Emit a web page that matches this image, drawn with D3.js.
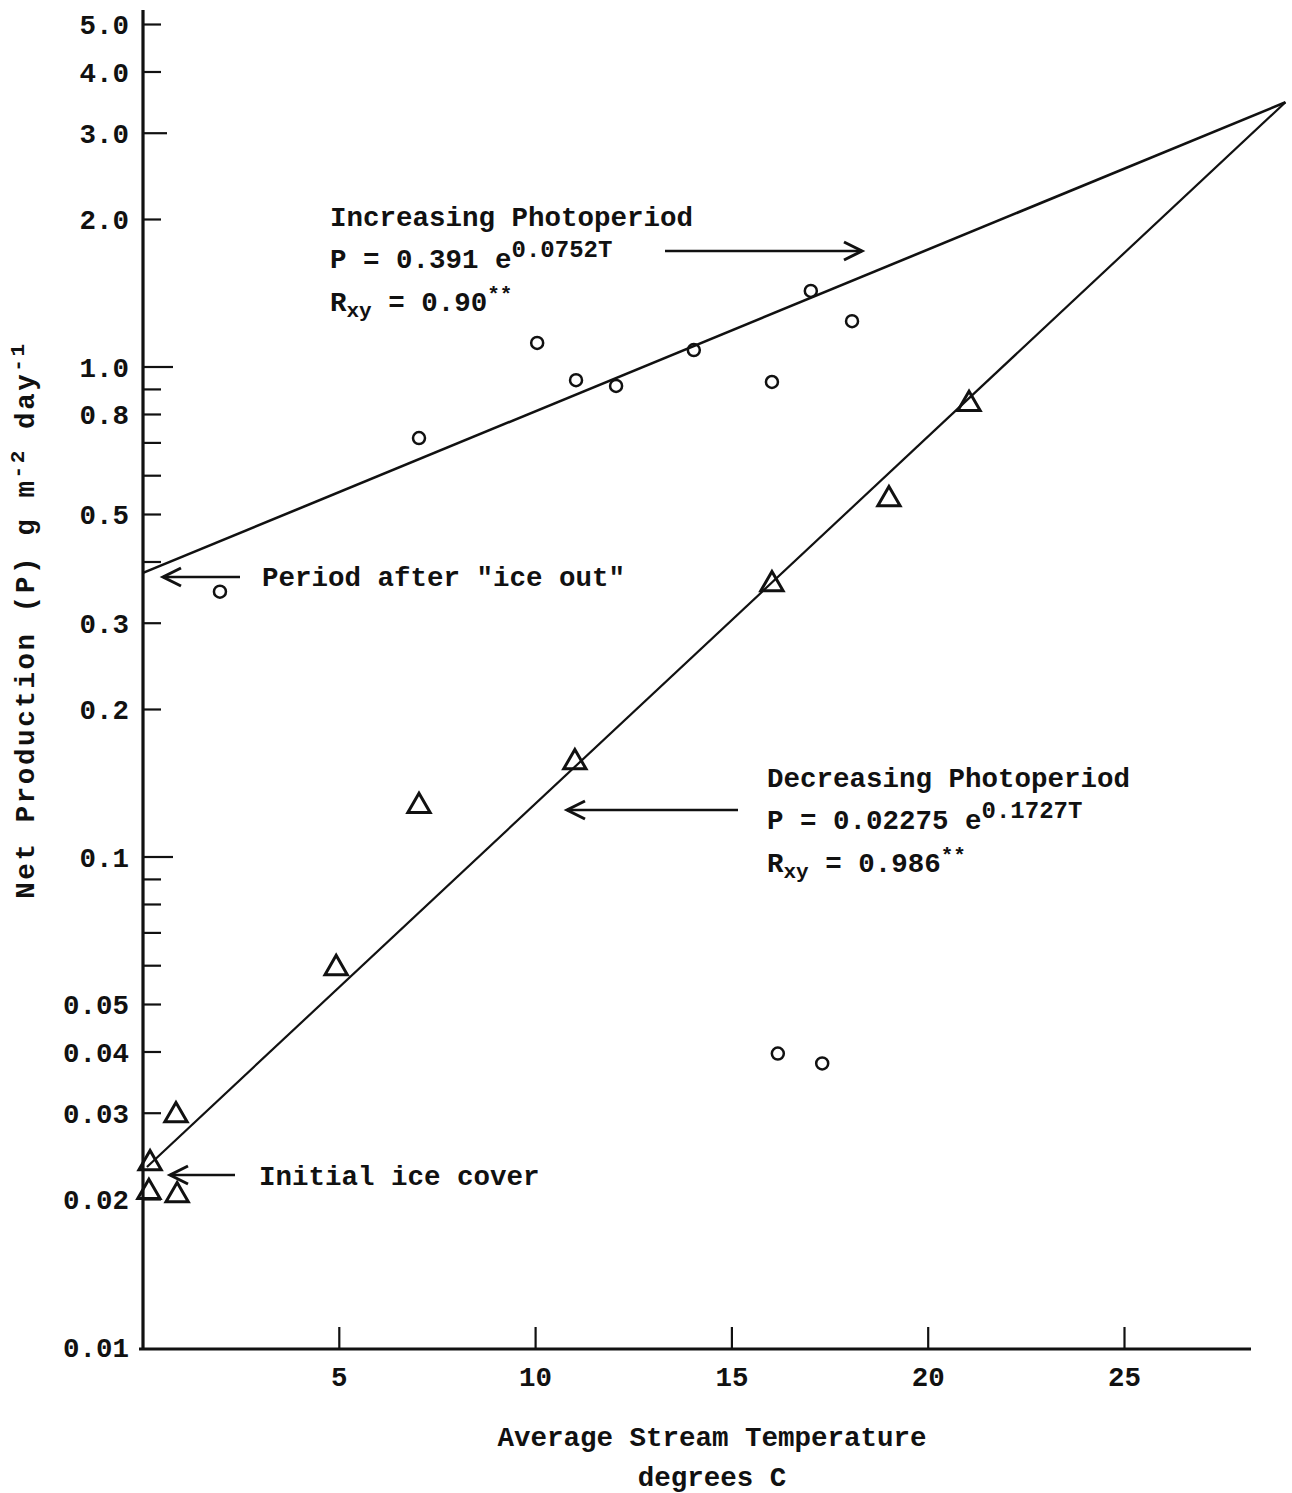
<!DOCTYPE html>
<html>
<head>
<meta charset="utf-8">
<script src="https://cdn.jsdelivr.net/npm/d3@7"></script>
<style>
  html, body { margin: 0; padding: 0; background: #fff; }
  svg { display: block; }
  text { font-family: "Liberation Mono", "DejaVu Sans Mono", monospace; font-weight: bold; fill: #111; }
</style>
</head>
<body>
<svg id="chart" width="1292" height="1493"></svg>
<script>
// ---- data ----
const incTemp = [1.96, 7.03, 10.04, 11.03, 12.05, 14.03, 16.02, 17.01, 18.06, 16.17, 17.3];
const incProd = [0.348, 0.716, 1.12, 0.94, 0.915, 1.083, 0.932, 1.43, 1.24, 0.0397, 0.0379];

const decTemp = [21.04, 19.0, 16.02, 11.0, 7.03, 4.92, 0.84, 0.18, 0.15, 0.87];
const decProd = [0.84, 0.537, 0.36, 0.156, 0.127, 0.0593, 0.0297, 0.0237, 0.0207, 0.0204];

// fitted lines, endpoints
const incLineT = [0, 29.1];
const incLineP = [0.38, 3.47];
const decLineT = [0.1, 29.1];
const decLineP = [0.0233, 3.47];

const xTicks = [5, 10, 15, 20, 25];
const yTickValues = [5, 4, 3, 2, 1, 0.9, 0.8, 0.7, 0.6, 0.5, 0.4, 0.3, 0.2, 0.1, 0.09, 0.08, 0.07, 0.06, 0.05, 0.04, 0.03, 0.02, 0.01];
const yTickLabels = {5: "5.0", 4: "4.0", 3: "3.0", 2: "2.0", 1: "1.0", 0.8: "0.8", 0.5: "0.5", 0.3: "0.3", 0.2: "0.2", 0.1: "0.1", 0.05: "0.05", 0.04: "0.04", 0.03: "0.03", 0.02: "0.02", 0.01: "0.01"};

// ---- scales ----
const x = d3.scaleLinear().domain([0, 25]).range([143, 1124.5]);
const y = d3.scaleLog().domain([0.01, 1]).range([1347, 367]);

const svg = d3.select("#chart");
const ink = "#111";
const fs = 27.5;

// ---- axes ----
const xAxisEnd = 1251;
const yAxisTop = 10;
svg.append("line").attr("x1", x(0)).attr("x2", x(0)).attr("y1", yAxisTop).attr("y2", y(0.01) + 3)
  .attr("stroke", ink).attr("stroke-width", 3.2);
svg.append("line").attr("x1", x(0) - 4).attr("x2", xAxisEnd).attr("y1", y(0.01) + 2).attr("y2", y(0.01) + 2)
  .attr("stroke", ink).attr("stroke-width", 3);

// y ticks (drawn inward, to the right)
const yt = svg.append("g");
yTickValues.forEach(v => {
  const isDecade = Math.abs(Math.log10(v) - Math.round(Math.log10(v))) < 1e-9;
  const len = isDecade ? 30 : (v === 3 ? 24 : 18);
  if (v !== 0.01) {
    yt.append("line").attr("x1", x(0)).attr("x2", x(0) + len)
      .attr("y1", y(v)).attr("y2", y(v)).attr("stroke", ink).attr("stroke-width", 2.2);
  }
  if (yTickLabels[v] !== undefined) {
    yt.append("text").attr("x", 129).attr("y", y(v)).attr("dy", "0.36em")
      .attr("text-anchor", "end").attr("font-size", fs).text(yTickLabels[v]);
  }
});

// x ticks (drawn inward, upward)
const xt = svg.append("g");
xTicks.forEach(v => {
  xt.append("line").attr("x1", x(v)).attr("x2", x(v)).attr("y1", y(0.01) + 2).attr("y2", y(0.01) - 20)
    .attr("stroke", ink).attr("stroke-width", 2.2);
  xt.append("text").attr("x", x(v)).attr("y", 1386).attr("text-anchor", "middle")
    .attr("font-size", fs).text(v);
});

// axis titles
svg.append("text").attr("x", 712).attr("y", 1446).attr("text-anchor", "middle").attr("font-size", fs)
  .text("Average Stream Temperature");
svg.append("text").attr("x", 712).attr("y", 1486).attr("text-anchor", "middle").attr("font-size", fs)
  .text("degrees C");

const yTitle = svg.append("text").attr("transform", "translate(34,620) rotate(-90)")
  .attr("text-anchor", "middle").attr("font-size", fs).attr("letter-spacing", 2.6);
yTitle.append("tspan").text("Net Production (P) g m");
yTitle.append("tspan").attr("dy", -10).attr("font-size", 21).text("-2");
yTitle.append("tspan").attr("dy", 10).text(" day");
yTitle.append("tspan").attr("dy", -10).attr("font-size", 21).text("-1");

// ---- fitted lines ----
const line = d3.line().x(d => x(d[0])).y(d => y(d[1]));
svg.append("path").datum(d3.zip(incLineT, incLineP)).attr("d", line)
  .attr("fill", "none").attr("stroke", ink).attr("stroke-width", 2.6);
svg.append("path").datum(d3.zip(decLineT, decLineP)).attr("d", line)
  .attr("fill", "none").attr("stroke", ink).attr("stroke-width", 2.2);

// ---- points ----
svg.append("g").selectAll("circle").data(d3.zip(incTemp, incProd)).join("circle")
  .attr("cx", d => x(d[0])).attr("cy", d => y(d[1])).attr("r", 6)
  .attr("fill", "none").attr("stroke", ink).attr("stroke-width", 2.5);

const tri = d3.symbol().type(d3.symbolTriangle).size(215);
svg.append("g").selectAll("path").data(d3.zip(decTemp, decProd)).join("path")
  .attr("transform", d => `translate(${x(d[0])},${y(d[1])})`).attr("d", tri)
  .attr("fill", "none").attr("stroke", ink).attr("stroke-width", 3).attr("stroke-linejoin", "miter");

// ---- annotations ----
function arrow(x1, y1, x2, y2, sw) {
  svg.append("line").attr("x1", x1).attr("y1", y1).attr("x2", x2).attr("y2", y2)
    .attr("stroke", ink).attr("stroke-width", sw || 2.4);
  const dir = Math.sign(x2 - x1);
  svg.append("path")
    .attr("d", `M${x2 - dir * 18},${y2 - 9} L${x2},${y2} L${x2 - dir * 18},${y2 + 9}`)
    .attr("fill", "none").attr("stroke", ink).attr("stroke-width", 3).attr("stroke-linejoin", "miter");
}

function block(x0, yTop, title, coef, expo, r) {
  svg.append("text").attr("x", x0).attr("y", yTop).attr("font-size", fs).text(title);
  const t2 = svg.append("text").attr("x", x0).attr("y", yTop + 42).attr("font-size", fs);
  t2.append("tspan").text("P = " + coef + " e");
  t2.append("tspan").attr("dy", -11).attr("font-size", 24).text(expo);
  const t3 = svg.append("text").attr("x", x0).attr("y", yTop + 85).attr("font-size", fs);
  t3.append("tspan").text("R");
  t3.append("tspan").attr("dy", 6).attr("font-size", 21).text("xy");
  t3.append("tspan").attr("dy", -6).text(" = " + r);
  t3.append("tspan").attr("dy", -10).attr("font-size", 21).text("**");
}

block(330, 226, "Increasing Photoperiod", "0.391", "0.0752T", "0.90");
arrow(665, 251, 862, 251);

block(767, 787, "Decreasing Photoperiod", "0.02275", "0.1727T", "0.986");
arrow(738, 810, 567, 810);

svg.append("text").attr("x", 262).attr("y", 586).attr("font-size", fs).text("Period after \"ice out\"");
arrow(240, 577, 163, 577);

svg.append("text").attr("x", 259).attr("y", 1185).attr("font-size", fs).text("Initial ice cover");
arrow(235, 1175, 170, 1175);
</script>
</body>
</html>
